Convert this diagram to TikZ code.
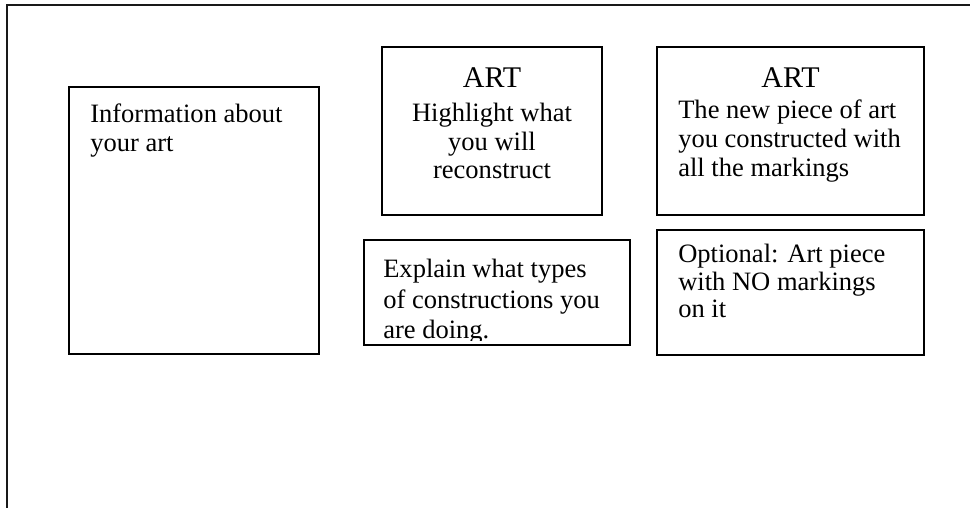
\documentclass[tikz,border=0pt]{standalone}
\usepackage{fontspec}
\setmainfont{Liberation Serif}
\usetikzlibrary{positioning,fit}

\begin{document}
\begin{tikzpicture}[
  x=0.75pt, y=-0.75pt,
  frame/.style={line width=1.8pt, draw=black!90},
  box/.style={draw, line width=1.6pt, inner sep=0pt},
  head/.style={inner sep=0pt, anchor=base, font=\fontsize{22.5}{27}\selectfont},
  txt/.style={inner sep=0pt, align=left, anchor=north west, font=\fontsize{19.9}{21.4}\selectfont},
  ctxt/.style={txt, align=center, anchor=north}
]
\useasboundingbox (0,0) rectangle (970,508);

% page frame (top and left edge only)
\coordinate (ftr) at (970,5);
\coordinate (ftl) at (7,5);
\coordinate (fbl) at (7,508);
\draw[frame] (ftr) -- (ftl) -- (fbl);

% boxes
\path (69,87) coordinate (a1) (319,354) coordinate (a2);
\node[box, fit=(a1)(a2)] (info) {};
\path (382,47) coordinate (b1) (602,215) coordinate (b2);
\node[box, fit=(b1)(b2)] (hilite) {};
\path (657,47) coordinate (c1) (924,215) coordinate (c2);
\node[box, fit=(c1)(c2)] (newart) {};
\path (364,240) coordinate (d1) (630,345) coordinate (d2);
\node[box, fit=(d1)(d2)] (explain) {};
\path (657,230) coordinate (e1) (924,355) coordinate (e2);
\node[box, fit=(e1)(e2)] (option) {};

% texts
\node[txt] (infoT) at (90,104) {Information about\\your art};

\node[head] (hiliteH) at (492,87) {ART};
\node[ctxt] (hiliteT) at (492,103) {Highlight what\\you will\\reconstruct};

\node[head] (newartH) at (790.5,87) {ART};
\node[txt] (newartT) at (678,100) {The new piece of art\\you constructed with\\all the markings};

\begin{scope}
  \clip (d1) rectangle (630,340);
  \node[txt, font=\fontsize{19.9}{22.9}\selectfont] (explainT) at (383,259)
    {Explain what types\\of constructions you\\are doing.};
\end{scope}

\node[txt, font=\fontsize{19.9}{20.6}\selectfont] (optionT) at (678,244)
  {Optional: Art piece\\with NO markings\\on it};
\end{tikzpicture}
\end{document}
